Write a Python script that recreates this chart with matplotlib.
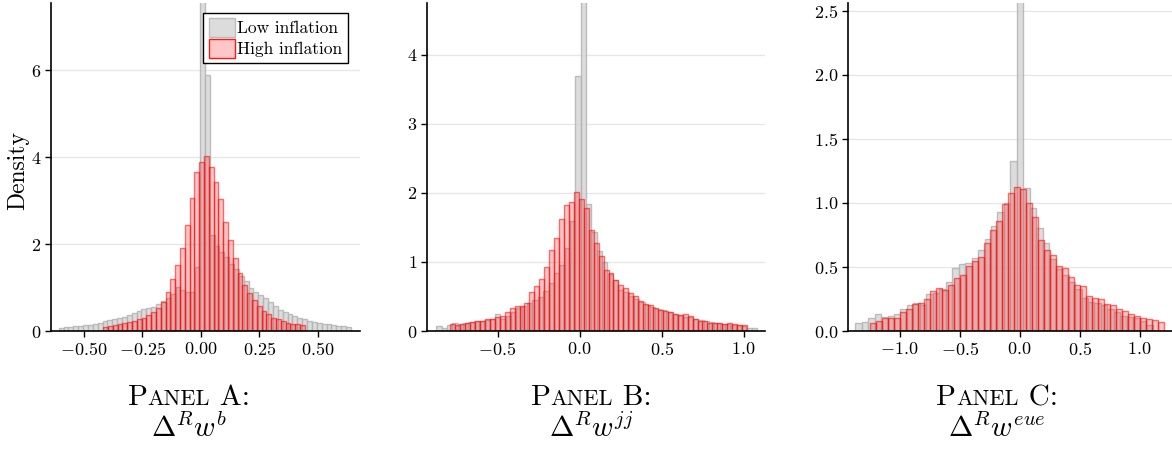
import numpy as np
import matplotlib.pyplot as plt
from matplotlib.patches import Patch

plt.rcParams['font.family'] = 'cmr10'
plt.rcParams['mathtext.fontset'] = 'cm'
plt.rcParams['axes.formatter.use_mathtext'] = True

# --- data: histogram heights (density) ---
# Panel A: Delta^R w^b
a_low_range = (-0.607, 0.641)
a_low = [0.08, 0.09, 0.10, 0.11, 0.12, 0.13, 0.14, 0.15, 0.18,
         0.23, 0.26, 0.28, 0.31, 0.33, 0.37, 0.41, 0.46, 0.50, 0.52,
         0.56, 0.62, 0.68, 0.76, 0.86, 1.01, 0.95, 0.90, 0.90, 1.48,
         9.00, 5.90, 2.20, 1.95, 1.82, 1.70, 1.55, 1.42, 1.27,
         1.15, 1.00, 0.90, 0.82, 0.75, 0.67, 0.57, 0.49, 0.44, 0.40, 0.34,
         0.31, 0.27, 0.23, 0.21, 0.19, 0.17, 0.15, 0.13, 0.12, 0.11, 0.10]
a_high_range = (-0.417, 0.444)
a_high = [0.084, 0.115, 0.138, 0.16, 0.18, 0.21, 0.24, 0.27, 0.31, 0.37,
          0.44, 0.54, 0.67, 0.90, 1.19, 1.53, 1.92, 2.44, 3.05, 3.65,
          3.90, 4.02, 3.78, 3.43, 3.03, 2.52, 2.09, 1.69, 1.33, 1.06,
          0.87, 0.71, 0.57, 0.46, 0.39, 0.31, 0.28, 0.23, 0.19, 0.16,
          0.15, 0.13]

# Panel B: Delta^R w^jj
b_low_range = (-0.874, 1.082)
b_low = [0.072, 0.043, 0.09, 0.11, 0.10, 0.12, 0.13, 0.15, 0.14, 0.16,
         0.17, 0.24, 0.18, 0.22, 0.28, 0.33, 0.36, 0.40, 0.45, 0.49,
         0.58, 0.69, 0.84, 0.96, 1.20, 1.60, 3.69, 6.00, 1.84, 1.43,
         1.16, 1.00, 0.82, 0.74, 0.60, 0.57, 0.50, 0.46, 0.42, 0.38,
         0.35, 0.32, 0.30, 0.27, 0.25, 0.23, 0.20, 0.20, 0.18, 0.16,
         0.14, 0.13, 0.12, 0.10, 0.10, 0.09, 0.08, 0.07, 0.05, 0.04]
b_high_range = (-0.788, 1.02)
b_high = [0.097, 0.087, 0.097, 0.12, 0.135, 0.15, 0.14, 0.17, 0.17, 0.20,
          0.22, 0.27, 0.33, 0.36, 0.36, 0.41, 0.56, 0.65, 0.75, 0.93,
          1.17, 1.35, 1.62, 1.83, 1.87, 2.02, 1.91, 1.78, 1.46, 1.28,
          1.09, 0.89, 0.84, 0.74, 0.67, 0.62, 0.55, 0.50, 0.44, 0.39,
          0.38, 0.33, 0.31, 0.29, 0.28, 0.25, 0.23, 0.25, 0.21, 0.17,
          0.15, 0.145, 0.12, 0.11, 0.12, 0.10, 0.11, 0.10, 0.09, 0.087]

# Panel C: Delta^R w^eue
c_low_range = (-1.37, 1.109)
c_low = [0.06, 0.07, 0.10, 0.13, 0.11, 0.12, 0.13, 0.17, 0.20, 0.22,
         0.20, 0.29, 0.30, 0.33, 0.38, 0.49, 0.52, 0.53, 0.57, 0.63,
         0.72, 0.82, 0.93, 1.00, 1.33, 3.00, 1.12, 0.96, 0.80, 0.69,
         0.56, 0.48, 0.44, 0.38, 0.33, 0.26, 0.23, 0.22, 0.20, 0.17,
         0.15, 0.12, 0.11, 0.10, 0.08, 0.05]
c_high_range = (-1.244, 1.2)
c_high = [0.065, 0.078, 0.104, 0.104, 0.104, 0.148, 0.17, 0.21, 0.22, 0.25,
          0.31, 0.335, 0.32, 0.36, 0.41, 0.44, 0.51, 0.55, 0.58, 0.69,
          0.79, 0.86, 0.995, 1.08, 1.12, 1.11, 1.00, 0.89, 0.71, 0.63,
          0.59, 0.51, 0.49, 0.42, 0.36, 0.35, 0.27, 0.26, 0.25, 0.21,
          0.20, 0.17, 0.16, 0.13, 0.12, 0.104, 0.096, 0.086, 0.07]

panels = [
    (a_low_range, a_low, a_high_range, a_high, (-0.64, 0.68), 7.55,
     [-0.5, -0.25, 0, 0.25, 0.5], [0, 2, 4, 6], 'A', r'$\Delta^R w^b$'),
    (b_low_range, b_low, b_high_range, b_high, (-0.93, 1.13), 4.75,
     [-0.5, 0, 0.5, 1.0], [0, 1, 2, 3, 4], 'B', r'$\Delta^R w^{jj}$'),
    (c_low_range, c_low, c_high_range, c_high, (-1.43, 1.27), 2.56,
     [-1.0, -0.5, 0, 0.5, 1.0], [0, 0.5, 1.0, 1.5, 2.0, 2.5], 'C', r'$\Delta^R w^{eue}$'),
]
xdec = [2, 1, 1]
ydec = [0, 0, 1]

# axes boxes in figure pixels: left, right
W, H = 1172, 449
boxes = [(51, 360), (427, 765), (848, 1172)]
label_x = [189, 591, 997]


def mfmt(dec):
    return plt.FuncFormatter(lambda v, p: '$%.*f$' % (dec, v))


fig = plt.figure(figsize=(W / 100, H / 100), dpi=100)

for k, (lr, lv, hr, hv, xlim, ytop, xt, yt, letter, sym) in enumerate(panels):
    x0, x1 = boxes[k]
    ax = fig.add_axes([x0 / W, (H - 331) / H, (x1 - x0) / W, 328 / H])
    le = np.linspace(lr[0], lr[1], len(lv) + 1)
    he = np.linspace(hr[0], hr[1], len(hv) + 1)
    ax.hist(le[:-1], bins=le, weights=lv, facecolor='#d6d6d6', edgecolor='#b4b4b4',
            linewidth=1.0, alpha=0.85, label='Low inflation')
    ax.hist(he[:-1], bins=he, weights=hv, facecolor=(1, 0, 0, 0.22),
            edgecolor=(1, 0, 0, 0.55), linewidth=1.0, label='High inflation')
    ax.set_xlim(*xlim)
    ax.set_ylim(0, ytop)
    ax.set_xticks(xt)
    ax.set_yticks(yt)
    ax.xaxis.set_major_formatter(mfmt(xdec[k]))
    ax.yaxis.set_major_formatter(mfmt(ydec[k]))
    ax.grid(axis='y', color='#e6e6e6', linewidth=0.9)
    ax.set_axisbelow(True)
    for s in ['top', 'right']:
        ax.spines[s].set_visible(False)
    for s in ['left', 'bottom']:
        ax.spines[s].set_linewidth(1.2)
    ax.tick_params(direction='out', length=4, width=1, labelsize=13, pad=3)

    # small-caps panel label
    r = fig.canvas.get_renderer()
    pieces = [('P', 21), ('ANEL', 16), (' ' + letter + ':', 21)]
    ts = [fig.text(0, (H - 405) / H, p, fontsize=s, va='baseline') for p, s in pieces]
    ws = [t.get_window_extent(r).width / W for t in ts]
    xs = label_x[k] / W - sum(ws) / 2
    for t, w in zip(ts, ws):
        t.set_x(xs)
        xs += w
    fig.text(label_x[k] / W, (H - 437) / H, sym, fontsize=21, ha='center', va='baseline')

    if k == 0:
        fig.text(18 / W, (H - 170) / H, 'Density', fontsize=17, rotation=90,
                 ha='center', va='center')
        handles = [Patch(facecolor='#d6d6d6', edgecolor='#b4b4b4', alpha=0.85),
                   Patch(facecolor=(1, 0, 0, 0.22), edgecolor=(1, 0, 0, 0.9))]
        leg = ax.legend(handles, ['Low inflation', 'High inflation'], loc='upper right',
                        bbox_to_anchor=(0.96, 0.97), fontsize=12.5, frameon=True,
                        fancybox=False, framealpha=1, edgecolor='black',
                        handlelength=1.5, handleheight=1.3, handletextpad=0.15,
                        borderpad=0.3, labelspacing=0.1, borderaxespad=0)
        leg.get_frame().set_linewidth(1.0)

fig.savefig('out.png', dpi=100)
